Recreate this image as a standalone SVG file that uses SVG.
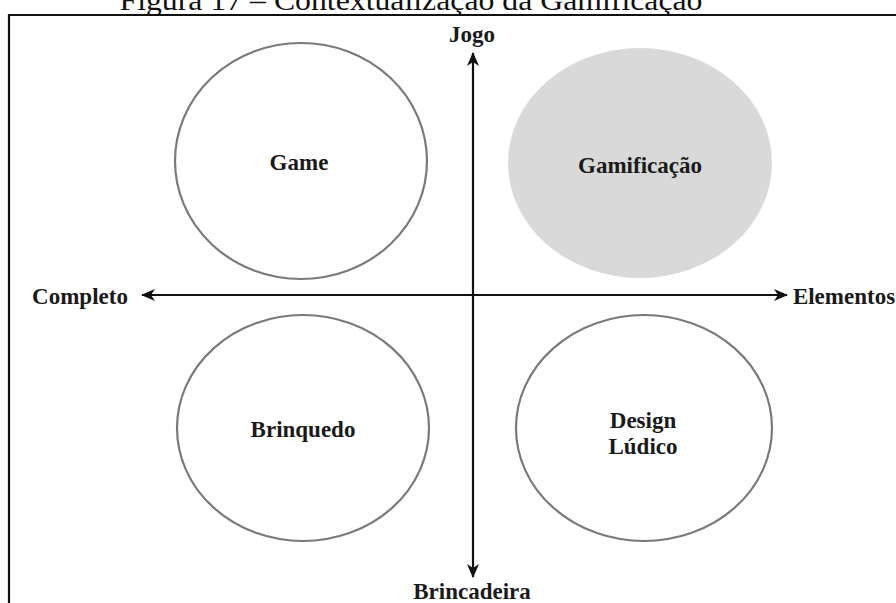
<svg xmlns="http://www.w3.org/2000/svg" width="896" height="603" viewBox="0 0 896 603">
<style>
.lbl{font-family:"Liberation Serif","Times New Roman",serif;font-weight:bold;font-size:23px;fill:#1a1a1a;text-anchor:middle}
.ttl{font-family:"Liberation Serif","Times New Roman",serif;font-size:30px;fill:#111;text-anchor:middle}
.ring{fill:#fff;stroke:#7a7a7a;stroke-width:2.2}
.axis{stroke:#111;stroke-width:2.2;fill:none}
</style>
<defs>
<marker id="ah" viewBox="0 0 14 14" refX="13" refY="7" markerWidth="14" markerHeight="14" markerUnits="userSpaceOnUse" orient="auto-start-reverse">
<path d="M0,1 L14,7 L0,13 L4,7 Z" fill="#111"/>
</marker>
</defs>
<rect width="896" height="603" fill="#fff"/>
<text class="ttl" x="411" y="10" textLength="583" lengthAdjust="spacingAndGlyphs">Figura 17 – Contextualização da Gamificação</text>
<path d="M9,603 L9,15 L896,15" fill="none" stroke="#111" stroke-width="2.2"/>
<g id="game"><ellipse class="ring" cx="301" cy="161" rx="126" ry="118"/><text class="lbl" x="299" y="170">Game</text></g>
<g id="gamificacao"><ellipse cx="640" cy="163" rx="132" ry="115" fill="#d9d9d9"/><text class="lbl" x="640" y="173">Gamificação</text></g>
<g id="brinquedo"><ellipse class="ring" cx="303" cy="428" rx="126" ry="113"/><text class="lbl" x="303" y="437">Brinquedo</text></g>
<g id="design"><ellipse class="ring" cx="644" cy="428" rx="128" ry="113"/><text class="lbl" x="643" y="428">Design</text><text class="lbl" x="643" y="454">Lúdico</text></g>
<g id="connectors">
<line class="axis" x1="473" y1="577" x2="473" y2="53" marker-start="url(#ah)" marker-end="url(#ah)"/>
<line class="axis" x1="142" y1="295" x2="787" y2="295" marker-start="url(#ah)" marker-end="url(#ah)"/>
</g>
<g id="labels">
<text class="lbl" x="472" y="42">Jogo</text>
<text class="lbl" x="80" y="304">Completo</text>
<text class="lbl" x="844" y="304">Elementos</text>
<text class="lbl" x="472" y="599">Brincadeira</text>
</g>
</svg>
